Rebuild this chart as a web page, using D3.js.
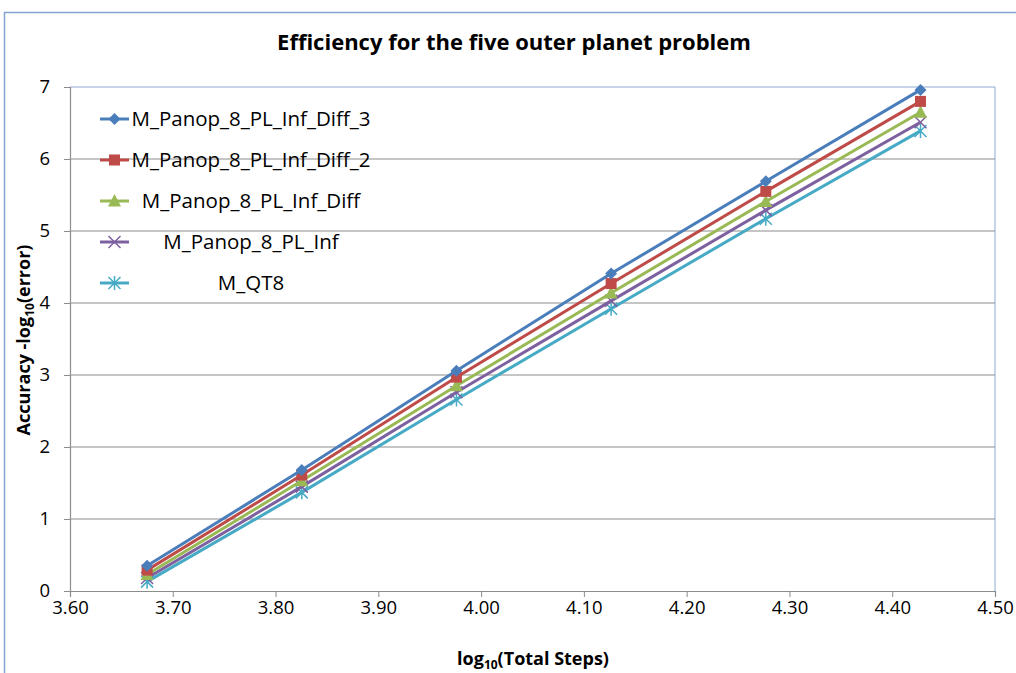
<!DOCTYPE html>
<html>
<head>
<meta charset="utf-8">
<script src="https://cdn.jsdelivr.net/npm/d3@7"></script>
<style>
  body { margin: 0; background: #fff; }
  text { font-family: "Open Sans", sans-serif; fill: #000; }
</style>
</head>
<body>
<div id="chart"></div>
<script>
// log10 of total steps, shared by every series
const steps = [3.675, 3.8255, 3.976, 4.1265, 4.277, 4.4275];

const seriesNames = ["M_Panop_8_PL_Inf_Diff_3", "M_Panop_8_PL_Inf_Diff_2", "M_Panop_8_PL_Inf_Diff", "M_Panop_8_PL_Inf", "M_QT8"];
const diff3 = [0.35, 1.68, 3.06, 4.41, 5.69, 6.96];
const diff2 = [0.29, 1.61, 2.97, 4.27, 5.55, 6.80];
const diff1 = [0.23, 1.53, 2.85, 4.14, 5.41, 6.65];
const inf = [0.18, 1.45, 2.76, 4.03, 5.29, 6.51];
const qt8 = [0.13, 1.37, 2.66, 3.92, 5.17, 6.39];
const xTicks = [3.60, 3.70, 3.80, 3.90, 4.00, 4.10, 4.20, 4.30, 4.40, 4.50];
const yTicks = [0, 1, 2, 3, 4, 5, 6, 7];

const colors = ["#4A7EBB", "#BE4B48", "#98B954", "#7D60A0", "#46AAC5"];
const markers = ["diamond", "square", "triangle", "cross", "asterisk"];

const W = 1016, H = 673;
const margin = { top: 87, right: 21, bottom: 82, left: 70 },
      width = W - margin.left - margin.right,
      height = H - margin.top - margin.bottom;

const svg = d3.select("#chart").append("svg")
    .attr("width", W).attr("height", H);

// chart area border
svg.append("rect")
    .attr("x", 4.5).attr("y", 12.5)
    .attr("width", W + 20).attr("height", H + 20)
    .attr("fill", "none").attr("stroke", "#86A3CF").attr("stroke-width", 1.5);

svg.append("text")
    .attr("x", 514).attr("y", 50)
    .attr("text-anchor", "middle")
    .style("font-size", "22px").style("font-weight", "bold")
    .text("Efficiency for the five outer planet problem");

const g = svg.append("g").attr("transform", `translate(${margin.left},${margin.top})`);

const x = d3.scaleLinear().domain([3.6, 4.5]).range([0, width]);
const y = d3.scaleLinear().domain([0, 7]).range([height, 0]);

// horizontal gridlines
g.append("g").selectAll("line").data(yTicks.slice(1, -1)).join("line")
    .attr("x1", 0).attr("x2", width)
    .attr("y1", d => y(d)).attr("y2", d => y(d))
    .attr("stroke", "#8C8C8C").attr("stroke-width", 1);

// plot area top/right edges
g.append("path")
    .attr("d", `M0,${y(7)}H${width}V${height}`)
    .attr("fill", "none").attr("stroke", "#8EA9D2").attr("stroke-width", 1);

const xAxis = g.append("g").attr("transform", `translate(0,${height})`)
    .call(d3.axisBottom(x).tickValues(xTicks).tickFormat(d3.format(".2f")).tickSize(6).tickPadding(4));
const yAxis = g.append("g")
    .call(d3.axisLeft(y).tickValues(yTicks).tickFormat(d3.format("d")).tickSize(6).tickPadding(14));

[xAxis, yAxis].forEach(a => {
    a.select(".domain").attr("stroke", "#8C8C8C").attr("stroke-width", 1.2);
    a.selectAll(".tick line").attr("stroke", "#8C8C8C");
    a.selectAll(".tick text").style("font-size", "18.5px").style("font-family", "'Open Sans', sans-serif").attr("fill", "#000");
});

// axis titles
const xl = svg.append("text")
    .attr("x", 533).attr("y", 665)
    .attr("text-anchor", "middle")
    .style("font-size", "18px").style("font-weight", "bold");
xl.append("tspan").text("log");
xl.append("tspan").attr("dy", 4).style("font-size", "12px").text("10");
xl.append("tspan").attr("dy", -4).text("(Total Steps)");

const yl = svg.append("text")
    .attr("transform", "translate(30,340) rotate(-90)")
    .attr("text-anchor", "middle")
    .style("font-size", "18px").style("font-weight", "bold");
yl.append("tspan").text("Accuracy -log");
yl.append("tspan").attr("dy", 4).style("font-size", "12px").text("10");
yl.append("tspan").attr("dy", -4).text("(error)");

// marker drawing
function drawMarker(sel, type, color) {
    if (type === "diamond") {
        sel.append("path").attr("d", "M0,-6L6,0L0,6L-6,0Z").attr("fill", color);
    } else if (type === "square") {
        sel.append("rect").attr("x", -5.5).attr("y", -5.5).attr("width", 11).attr("height", 11).attr("fill", color);
    } else if (type === "triangle") {
        sel.append("path").attr("d", "M0,-7L6.5,5.5L-6.5,5.5Z").attr("fill", color);
    } else if (type === "cross") {
        sel.append("path").attr("d", "M-6,-6L6,6M-6,6L6,-6").attr("stroke", color).attr("stroke-width", 1.5);
    } else {
        sel.append("path").attr("d", "M-6,-6L6,6M-6,6L6,-6M0,-7V7").attr("stroke", color).attr("stroke-width", 1.5);
    }
}

const allSeries = [diff3, diff2, diff1, inf, qt8];
const line = d3.line().x((d, i) => x(steps[i])).y(d => y(d));

// draw from last series to first so the top series sits on top
allSeries.slice().reverse().forEach((vals, ri) => {
    const i = allSeries.length - 1 - ri;
    g.append("path").datum(vals)
        .attr("d", line)
        .attr("fill", "none").attr("stroke", colors[i]).attr("stroke-width", 3);
    vals.forEach((v, j) => {
        const m = g.append("g").attr("transform", `translate(${x(steps[j])},${y(v)})`);
        drawMarker(m, markers[i], colors[i]);
    });
});

// legend
const legend = svg.append("g");
seriesNames.forEach((name, i) => {
    const ly = 119 + i * 41;
    legend.append("line")
        .attr("x1", 100).attr("x2", 129).attr("y1", ly).attr("y2", ly)
        .attr("stroke", colors[i]).attr("stroke-width", 3);
    drawMarker(legend.append("g").attr("transform", `translate(114.5,${ly})`), markers[i], colors[i]);
    legend.append("text")
        .attr("x", 251).attr("y", ly + 7)
        .attr("text-anchor", "middle")
        .style("font-size", "20.5px")
        .text(name);
});
</script>
</body>
</html>
